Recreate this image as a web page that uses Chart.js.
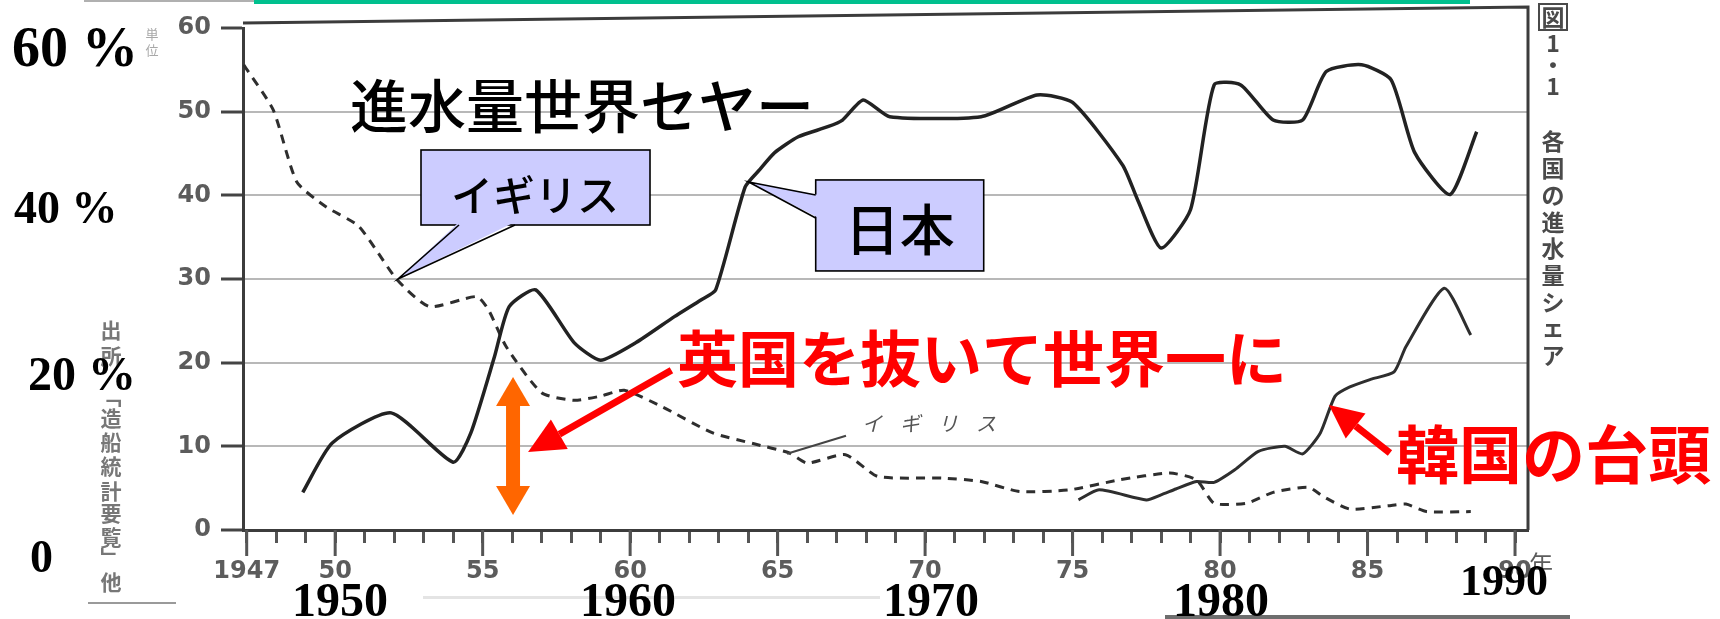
<!DOCTYPE html>
<html lang="ja">
<head>
<meta charset="utf-8">
<title>各国の進水量シェア</title>
<script src="https://cdn.jsdelivr.net/npm/chart.js@4.4.1/dist/chart.umd.min.js"></script>
<style>
    html, body { margin: 0; padding: 0; background: #fff; }
    #wrap { position: relative; width: 1720px; height: 619px; }
</style>
</head>
<body>
<div id="wrap"><canvas id="chart"></canvas></div>
<script>
/* ============================================
   図1・1 各国の進水量シェア (scan + slide notes)
   ============================================ */

// Axis ticks
const yTicks = [0, 10, 20, 30, 40, 50, 60];
const xMajor = [1947, 1950, 1955, 1960, 1965, 1970, 1975, 1980, 1985, 1990];
const xMajorLabels = ['1947', '50', '55', '60', '65', '70', '75', '80', '85', '90'];

// 日本 (solid line)
const jpYears = [1948.9, 1949.9, 1951.9, 1954.0, 1954.6, 1955.4, 1955.9, 1956.8, 1958.1, 1959.0,
    1960.2, 1961.5, 1962.4, 1962.9, 1963.9, 1964.4, 1964.9, 1965.7, 1966.7, 1967.2,
    1967.9, 1968.8, 1971.9, 1973.8, 1975.0, 1976.7, 1977.2, 1978.0, 1979.0, 1979.8,
    1980.7, 1981.8, 1982.8, 1983.6, 1984.8, 1985.8, 1986.6, 1987.8, 1988.7];
const jpShare = [4.5, 10.4, 14.0, 8.1, 11.6, 20.7, 26.7, 28.7, 22.4, 20.3,
    22.4, 25.5, 27.5, 28.7, 41.0, 43.1, 45.1, 47.0, 48.2, 49.0,
    51.4, 49.4, 49.4, 52.0, 51.1, 43.6, 39.5, 33.7, 38.3, 53.2,
    53.2, 49.0, 49.0, 54.8, 55.6, 53.8, 45.1, 40.1, 47.6];

// イギリス (dashed line)
const ukYears = [1946.9, 1947.9, 1948.7, 1949.7, 1950.8, 1952.1, 1953.2, 1954.8, 1955.2, 1955.8,
    1957.0, 1958.1, 1959.0, 1959.8, 1961.1, 1962.8, 1964.2, 1965.4, 1966.0, 1967.3,
    1968.4, 1970.6, 1971.9, 1973.2, 1974.9, 1976.6, 1978.3, 1979.2, 1979.8, 1980.9,
    1981.8, 1983.0, 1983.5, 1984.4, 1985.7, 1986.3, 1987.0, 1988.5];
const ukShare = [55.6, 50.2, 41.6, 38.6, 36.3, 29.9, 26.7, 27.9, 26.3, 21.9,
    16.4, 15.5, 16.0, 16.7, 14.7, 11.6, 10.3, 9.2, 8.0, 9.0,
    6.4, 6.2, 5.8, 4.6, 4.8, 6.0, 6.8, 6.0, 3.2, 3.2,
    4.5, 5.1, 4.0, 2.5, 2.9, 3.1, 2.2, 2.2];

// 韓国 (solid line from 1975)
const krYears = [1975.2, 1975.9, 1977.5, 1978.0, 1978.5, 1979.2, 1979.8, 1980.5, 1981.3, 1982.2,
    1982.8, 1983.4, 1983.9, 1984.4, 1985.1, 1985.9, 1986.3, 1987.6, 1988.5];
const krShare = [3.6, 4.8, 3.6, 4.2, 4.9, 5.8, 5.7, 7.2, 9.4, 10.0,
    9.1, 11.6, 16.0, 17.1, 18.0, 18.9, 21.9, 28.9, 23.3];

// Labels typed onto the slide
const pctLabels = ['60 %', '40 %', '20 %', '0'];
const decadeLabels = ['1950', '1960', '1970', '1980', '1990'];

const toPoints = (xs, ys) => xs.map((x, i) => ({ x, y: ys[i] }));

function vtext(ctx, chars, x, ys) {
    chars.forEach((c, i) => ctx.fillText(c, x, ys[i]));
}

function callout(ctx, tip, bx, by, bw, bh, b1, b2, inward) {
    ctx.fillStyle = '#ccccff';
    ctx.strokeStyle = '#000';
    ctx.lineWidth = 1.6;
    ctx.fillRect(bx, by, bw, bh);
    ctx.strokeRect(bx, by, bw, bh);
    ctx.beginPath();
    ctx.moveTo(b1.x + inward.x, b1.y + inward.y);
    ctx.lineTo(tip.x, tip.y);
    ctx.lineTo(b2.x + inward.x, b2.y + inward.y);
    ctx.closePath();
    ctx.fill();
    ctx.beginPath();
    ctx.moveTo(b1.x, b1.y); ctx.lineTo(tip.x, tip.y); ctx.lineTo(b2.x, b2.y);
    ctx.stroke();
}

function arrow(ctx, from, to, color, width, headLen, headHalf) {
    const ang = Math.atan2(to.y - from.y, to.x - from.x);
    const bx = to.x - Math.cos(ang) * headLen, by = to.y - Math.sin(ang) * headLen;
    ctx.strokeStyle = color; ctx.fillStyle = color; ctx.lineWidth = width;
    ctx.beginPath(); ctx.moveTo(from.x, from.y); ctx.lineTo(bx, by); ctx.stroke();
    ctx.beginPath();
    ctx.moveTo(to.x, to.y);
    ctx.lineTo(bx + Math.sin(ang) * headHalf, by - Math.cos(ang) * headHalf);
    ctx.lineTo(bx - Math.sin(ang) * headHalf, by + Math.cos(ang) * headHalf);
    ctx.closePath(); ctx.fill();
}

const slideDecor = {
    id: 'slideDecor',
    afterDraw(chart) {
        const { ctx, chartArea: a, scales } = chart;
        const xs = scales.x, ys = scales.y;
        const P = (yr, v) => ({ x: xs.getPixelForValue(yr), y: ys.getPixelForValue(v) });
        const jp = '"Noto Sans CJK JP", sans-serif';
        ctx.save();

        // longer ticks on labelled years, and 年 after 90
        ctx.strokeStyle = '#555'; ctx.lineWidth = 3;
        xMajor.forEach(yr => {
            const px = xs.getPixelForValue(yr);
            ctx.beginPath(); ctx.moveTo(px, a.bottom); ctx.lineTo(px, a.bottom + 26); ctx.stroke();
        });
        ctx.fillStyle = '#5c5c5c';
        ctx.font = `24px ${jp}`;
        ctx.textAlign = 'left'; ctx.textBaseline = 'middle';
        ctx.fillText('年', xs.getPixelForValue(1990) + 14, a.bottom + 34);

        // frame of the scanned figure (top edge is skewed in the scan)
        ctx.strokeStyle = '#3c3c3c'; ctx.lineWidth = 3;
        ctx.beginPath();
        ctx.moveTo(a.left, a.top - 5); ctx.lineTo(a.right, a.top - 21); ctx.lineTo(a.right, a.bottom);
        ctx.stroke();

        // scan leftovers along the edges
        ctx.fillStyle = '#00c08e'; ctx.fillRect(254, 0, 1216, 4);
        ctx.fillStyle = '#b0b0b0'; ctx.fillRect(84, 0, 170, 2);
        ctx.fillStyle = '#9a9a9a'; ctx.fillRect(88, 602, 88, 2);
        ctx.fillStyle = '#e4e4e4'; ctx.fillRect(423, 596, 457, 3);
        ctx.fillStyle = '#6e6e6e'; ctx.fillRect(1165, 615, 405, 4);

        // vertical caption on the right
        ctx.fillStyle = '#4a4a4a';
        ctx.font = `bold 23px ${jp}`;
        ctx.textAlign = 'center';
        vtext(ctx, ['図', '1', '・', '1', '各', '国', 'の', '進', '水', '量', 'シ', 'ェ', 'ア'], 1553,
            [17, 43, 65, 86, 141, 168, 195, 222, 248, 275, 302, 327, 355]);
        ctx.strokeStyle = '#4a4a4a'; ctx.lineWidth = 2;
        ctx.strokeRect(1539, 4, 28, 26);

        // source note on the left
        ctx.fillStyle = '#777';
        ctx.font = `bold 21px ${jp}`;
        vtext(ctx, ['出', '所', '﹁', '造', '船', '統', '計', '要', '覧', '﹂', '他'], 111,
            [330, 356, 396, 418, 442, 466, 491, 513, 537, 557, 582]);
        ctx.fillStyle = '#a8a8a8';
        ctx.font = `13px ${jp}`;
        vtext(ctx, ['単', '位'], 152, [34, 50]);

        // small original label for the UK line
        const ukNote = P(1970.2, 12.7);
        ctx.fillStyle = '#555';
        ctx.font = `italic 20px ${jp}`;
        ['イ', 'ギ', 'リ', 'ス'].forEach((c, i) => ctx.fillText(c, ukNote.x - 59 + i * 38, ukNote.y));
        ctx.strokeStyle = '#444'; ctx.lineWidth = 2;
        ctx.beginPath(); ctx.moveTo(ukNote.x - 85, ukNote.y + 12); ctx.lineTo(ukNote.x - 144, ukNote.y + 30); ctx.stroke();

        // slide title
        ctx.fillStyle = '#000';
        ctx.font = `500 58px ${jp}`;
        ctx.textAlign = 'left';
        ctx.fillText('進水量世界セヤー', 350, 106);

        // callouts
        const tUk = P(1952.13, 30.0);
        callout(ctx, tUk, tUk.x + 23, tUk.y - 129, 229, 75,
            { x: tUk.x + 61, y: tUk.y - 54 }, { x: tUk.x + 117, y: tUk.y - 54 }, { x: 0, y: -3 });
        ctx.fillStyle = '#000';
        ctx.font = `500 42px ${jp}`;
        ctx.textAlign = 'center';
        ctx.fillText('イギリス', tUk.x + 137, tUk.y - 84);

        const tJp = P(1964.02, 41.6);
        callout(ctx, tJp, tJp.x + 67, tJp.y - 2, 168, 91,
            { x: tJp.x + 67, y: tJp.y + 13 }, { x: tJp.x + 67, y: tJp.y + 36 }, { x: 3, y: 0 });
        ctx.fillStyle = '#000';
        ctx.font = `500 55px ${jp}`;
        ctx.fillText('日本', tJp.x + 151, tJp.y + 47);

        // orange double arrow: the gap where Japan passes the UK
        const oTop = P(1956.03, 18.3), oBot = P(1956.03, 1.8);
        ctx.fillStyle = '#ff6600';
        ctx.fillRect(oTop.x - 7, oTop.y + 26, 14, oBot.y - oTop.y - 52);
        ctx.beginPath();
        ctx.moveTo(oTop.x, oTop.y); ctx.lineTo(oTop.x - 17, oTop.y + 29); ctx.lineTo(oTop.x + 17, oTop.y + 29);
        ctx.closePath(); ctx.fill();
        ctx.beginPath();
        ctx.moveTo(oBot.x, oBot.y); ctx.lineTo(oBot.x - 17, oBot.y - 29); ctx.lineTo(oBot.x + 17, oBot.y - 29);
        ctx.closePath(); ctx.fill();

        // red notes and arrows
        arrow(ctx, P(1961.4, 19.1), P(1956.54, 9.32), '#ff0000', 7, 36, 17);
        arrow(ctx, P(1985.76, 9.2), P(1983.69, 14.94), '#ff0000', 7, 34, 16);
        ctx.fillStyle = '#ff0000';
        ctx.font = `bold 61px ${jp}`;
        ctx.textAlign = 'left';
        ctx.fillText('英国を抜いて世界一に', 677, 359);
        ctx.font = `bold 63px ${jp}`;
        ctx.fillText('韓国の台頭', 1396, 454);

        // big percentage and decade labels typed on the slide
        ctx.fillStyle = '#000';
        ctx.textBaseline = 'alphabetic';
        const serif = '"Liberation Serif", "Times New Roman", serif';
        [[56, 12, 66], [46, 14, 223], [48, 28, 390], [46, 30, 572]].forEach(([size, x, y], i) => {
            ctx.font = `bold ${size}px ${serif}`;
            ctx.fillText(pctLabels[i], x, y);
        });
        ctx.textAlign = 'center';
        [[48, 340, 616], [48, 628, 616], [48, 931, 616], [48, 1221, 616], [44, 1504, 595]].forEach(([size, x, y], i) => {
            ctx.font = `bold ${size}px ${serif}`;
            ctx.fillText(decadeLabels[i], x, y);
        });

        ctx.restore();
    }
};

const tickFont = { family: '"DejaVu Sans", sans-serif', size: 24, weight: 'bold' };

new Chart(document.getElementById('chart'), {
    type: 'line',
    data: {
        datasets: [
            { label: '日本', data: toPoints(jpYears, jpShare), borderColor: '#222', borderWidth: 3.5, tension: 0.2 },
            { label: 'イギリス', data: toPoints(ukYears, ukShare), borderColor: '#2e2e2e', borderWidth: 3, borderDash: [9, 7], tension: 0.2 },
            { label: '韓国', data: toPoints(krYears, krShare), borderColor: '#2e2e2e', borderWidth: 3, tension: 0.2 }
        ]
    },
    options: {
        responsive: true, maintainAspectRatio: false, devicePixelRatio: 1, animation: false,
        layout: { padding: { top: 28, right: 192, left: 0, bottom: 0 } },
        elements: { point: { radius: 0 } },
        plugins: { legend: { display: false }, tooltip: { enabled: false } },
        scales: {
            x: {
                type: 'linear', min: 1946.875, max: 1990.44,
                afterBuildTicks: s => { s.ticks = []; for (let yr = 1947; yr <= 1990; yr++) s.ticks.push({ value: yr }); },
                afterFit: s => { s.height = 89; },
                ticks: {
                    autoSkip: false, maxRotation: 0, padding: 14, color: '#5c5c5c', font: tickFont,
                    callback: v => { const i = xMajor.indexOf(v); return i >= 0 ? xMajorLabels[i] : ''; }
                },
                grid: { drawOnChartArea: false, tickLength: 13, tickColor: '#555', tickWidth: 3 },
                border: { color: '#3c3c3c', width: 3 }
            },
            y: {
                min: 0, max: 60,
                afterBuildTicks: s => { s.ticks = yTicks.map(v => ({ value: v })); },
                afterFit: s => { s.width = 243; },
                ticks: { padding: 10, color: '#5c5c5c', font: tickFont },
                grid: {
                    color: c => (c.tick && (c.tick.value === 60 || c.tick.value === 0)) ? 'rgba(0,0,0,0)' : 'rgba(0,0,0,0.28)',
                    lineWidth: 2, tickLength: 22, tickColor: '#444', tickWidth: 3
                },
                border: { color: '#3c3c3c', width: 3 }
            }
        }
    },
    plugins: [slideDecor]
});
</script>
</body>
</html>
